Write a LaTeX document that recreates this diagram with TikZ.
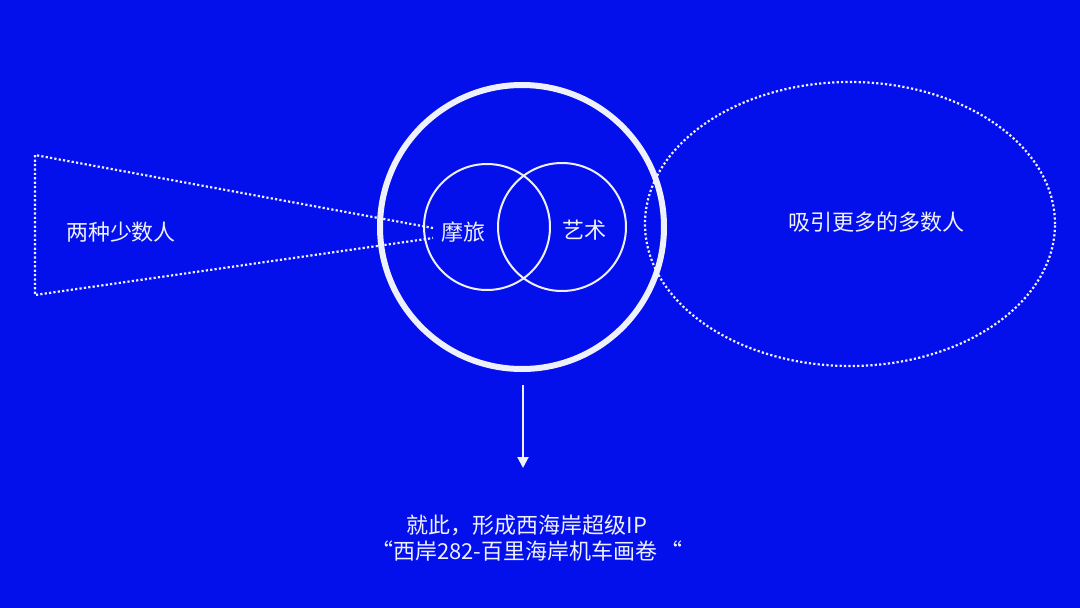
\documentclass[tikz,border=0pt]{standalone}
\usepackage{fontspec}
\setmainfont{Noto Sans CJK SC}
\usetikzlibrary{shapes.geometric, arrows.meta}
\definecolor{bgblue}{RGB}{4,16,236}
\definecolor{txt}{RGB}{238,240,252}

\begin{document}
\begin{tikzpicture}[x=1pt,y=-1pt,
  every node/.style={text=txt,font=\fontsize{22}{26}\selectfont,inner sep=0pt},
  ring/.style={draw=txt,shape=circle,line width=#1},
  dots/.style={draw=txt,line width=2.2pt,dash pattern=on 2.2pt off 2.2pt}]
  \fill[bgblue] (0,0) rectangle (1080,608);
  \path (522,227) node[ring=6pt,minimum size=284pt] (big) {}
  (487,227) node[ring=2pt,minimum size=126pt] (moto) {}
  (562,227) node[ring=2pt,minimum size=128pt] (art) {}
  (850,224) node[dots,shape=ellipse,minimum width=410pt,minimum height=284pt] (many) {}
  (463,232) node (lmoto) {摩旅} (584,230) node (lart) {艺术}
  (121,232) node (lfew) {两种少数人} (876,222) node (lmany) {吸引更多的多数人}
  (527,538) node[align=center] (ip) {就此，形成西海岸超级IP\\“西岸282-百里海岸机车画卷\,“};
  % funnel
  \coordinate (ftr) at (433,228); \coordinate (ft) at (35,155);
  \coordinate (fb) at (35,295); \coordinate (fbr) at (433,238);
  \draw[dots] (ftr) -- (ft) -- (fb) -- (fbr);
  \coordinate (atop) at (523,385); \coordinate (atip) at (523,468);
  \draw[txt,line width=2pt,-{Triangle[width=11pt,length=11pt]}] (atop) -- (atip);
\end{tikzpicture}
\end{document}
